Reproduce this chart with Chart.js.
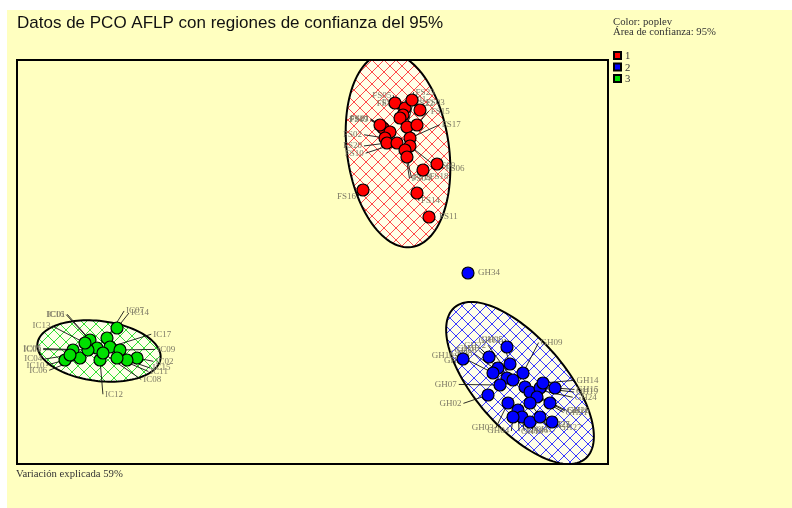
<!DOCTYPE html>
<html>
<head>
<meta charset="utf-8">
<script src="https://cdn.jsdelivr.net/npm/chart.js@4.4.1/dist/chart.umd.min.js"></script>
<style>
  html, body { margin: 0; padding: 0; background: #fff; }
  #wrap { width: 792px; height: 508px; }
</style>
</head>
<body>
<div id="wrap"><canvas id="pco-chart" width="792" height="508"></canvas></div>
<script>
// PCO scores (axis 1, axis 2) per population
const groupNames = ["1", "2", "3"];

const fsX = [378, 388, 386, 403, 383, 366, 373, 390, 400, 368, 370, 380, 393, 393, 388, 390, 406, 420, 346, 400, 412, 363, 395];
const fsY = [361, 356, 349, 354, 346, 336, 332, 337, 339, 326, 321, 321, 326, 318, 314, 307, 294, 300, 274, 271, 247, 339, 364];
const fsLabels = ["FS05", "FS01", "FS08", "FS03", "FS12", "FS19", "FS07", "FS22", "FS15", "FS02", "FS20", "FS10",
  "FS17", "FS09", "FS04", "FS13", "FS18", "FS06", "FS16", "FS14", "FS11", "FS21", "FS23"];

const ghX = [451, 446, 490, 472, 493, 481, 476, 490, 496, 506, 508, 471, 513, 523, 526, 538, 520, 491, 513, 533, 501, 505, 496, 513, 523, 535, 483];
const ghY = [191, 105, 117, 107, 100, 96, 91, 86, 84, 91, 77, 69, 72, 76, 81, 76, 67, 61, 61, 61, 54, 47, 47, 42, 47, 42, 79];
const ghLabels = ["GH34", "GH10", "GH05", "GH16", "GH12", "GH18", "GH20", "GH08", "GH22", "GH09", "GH24", "GH02",
  "GH26", "GH19", "GH14", "GH15", "GH21", "GH03", "GH25", "GH11", "GH13", "GH06", "GH04", "GH17", "GH23", "GH27", "GH07"];

const icX = [100, 90, 73, 80, 56, 93, 103, 83, 48, 63, 120, 110, 100, 53, 71, 68, 86];
const icY = [136, 126, 124, 116, 114, 117, 114, 104, 104, 106, 106, 104, 106, 109, 114, 121, 111];
const icLabels = ["IC14", "IC07", "IC01", "IC16", "IC03", "IC17", "IC09", "IC12", "IC10", "IC06", "IC02", "IC15",
  "IC11", "IC04", "IC05", "IC13", "IC08"];

// 95% confidence ellipses: centre, semi-axes, rotation (degrees)
const ellCx = [381, 503, 82];
const ellCy = [314, 81, 113];
const ellA = [98, 100, 62];
const ellB = [51, 45, 30];
const ellAngle = [98, -49, -7];

const pointColors = ["#ff0000", "#0000ff", "#00e000"];
const hatchColors = ["#ff4a4a", "#3a3aff", "#33dd33"];
// how far labels are pushed out from the group centre (px, horizontal / vertical)
const labelRx = [40, 58, 56];
const labelRy = [38, 46, 44];

const toPoints = (xs, ys) => xs.map((x, i) => ({ x: x, y: ys[i] }));
const groupLabels = [fsLabels, ghLabels, icLabels];

const makeHatch = (ctx, color) => {
  const c = document.createElement("canvas");
  c.width = 12;
  c.height = 12;
  const g = c.getContext("2d");
  g.strokeStyle = color;
  g.lineWidth = 1;
  g.beginPath();
  g.moveTo(-1, -1); g.lineTo(13, 13);
  g.moveTo(13, -1); g.lineTo(-1, 13);
  g.stroke();
  return ctx.createPattern(c, "repeat");
};

const ellipsePath = (ctx, xs, ys, i) => {
  const th = ellAngle[i] * Math.PI / 180;
  ctx.beginPath();
  for (let k = 0; k <= 120; k++) {
    const t = k / 120 * Math.PI * 2;
    const dx = ellA[i] * Math.cos(t) * Math.cos(th) - ellB[i] * Math.sin(t) * Math.sin(th);
    const dy = ellA[i] * Math.cos(t) * Math.sin(th) + ellB[i] * Math.sin(t) * Math.cos(th);
    const px = xs.getPixelForValue(ellCx[i] + dx);
    const py = ys.getPixelForValue(ellCy[i] + dy);
    if (k === 0) ctx.moveTo(px, py); else ctx.lineTo(px, py);
  }
  ctx.closePath();
};

const pcoDecor = {
  id: "pcoDecor",
  beforeDraw(chart) {
    const ctx = chart.ctx;
    ctx.save();
    ctx.fillStyle = "#ffffff";
    ctx.fillRect(0, 0, chart.width, chart.height);
    ctx.fillStyle = "#ffffc0";
    ctx.fillRect(7, 10, chart.width - 7, chart.height - 10);
    ctx.restore();
  },
  beforeDatasetsDraw(chart) {
    const ctx = chart.ctx;
    const area = chart.chartArea;
    const xs = chart.scales.x;
    const ys = chart.scales.y;
    ctx.save();
    ctx.beginPath();
    ctx.rect(area.left, area.top, area.right - area.left, area.bottom - area.top);
    ctx.clip();

    // ellipses
    for (let i = 0; i < 3; i++) {
      ellipsePath(ctx, xs, ys, i);
      ctx.fillStyle = "#ffffe8";
      ctx.fill();
      ctx.fillStyle = makeHatch(ctx, hatchColors[i]);
      ctx.fill();
      ctx.strokeStyle = "#000";
      ctx.lineWidth = 2;
      ctx.stroke();
    }

    // point labels pushed outward, with leader lines back to the point
    chart.data.datasets.forEach((ds, i) => {
      const pts = ds.data.map((p) => ({ x: xs.getPixelForValue(p.x), y: ys.getPixelForValue(p.y) }));
      const cx = pts.reduce((s, p) => s + p.x, 0) / pts.length;
      const cy = pts.reduce((s, p) => s + p.y, 0) / pts.length;
      ctx.font = '9px "Liberation Serif", "Times New Roman", serif';
      ctx.textBaseline = "middle";
      pts.forEach((p, j) => {
        const dx = p.x - cx;
        const dy = p.y - cy;
        const d = Math.hypot(dx, dy) || 1;
        const ux = dx / d;
        const uy = dy / d;
        let ax, ay, right;
        if (d > 1.8 * labelRx[i]) {
          // isolated point: label just to its right
          ax = p.x + 8; ay = p.y; right = true;
        } else {
          const rr = 1 / Math.hypot(ux / labelRx[i], uy / labelRy[i]);
          const r = Math.max(d + 8, rr);
          ax = cx + ux * r;
          ay = cy + uy * r;
          right = ux >= 0;
          ctx.strokeStyle = "rgba(20,20,20,0.9)";
          ctx.lineWidth = 1;
          ctx.beginPath();
          ctx.moveTo(p.x, p.y);
          ctx.lineTo(ax, ay);
          ctx.stroke();
        }
        ctx.fillStyle = "#7d7a66";
        ctx.textAlign = right ? "left" : "right";
        ctx.fillText(groupLabels[i][j], ax + (right ? 2 : -2), ay);
      });
    });
    ctx.restore();
  },
  afterDraw(chart) {
    const ctx = chart.ctx;
    const area = chart.chartArea;
    ctx.save();
    ctx.strokeStyle = "#000";
    ctx.lineWidth = 2;
    ctx.strokeRect(area.left, area.top, area.right - area.left, area.bottom - area.top);

    ctx.fillStyle = "#111";
    ctx.textAlign = "left";
    ctx.textBaseline = "alphabetic";
    ctx.font = '17px "Liberation Sans", Arial, sans-serif';
    ctx.fillText("Datos de PCO AFLP con regiones de confianza del 95%", 17, 28);

    ctx.fillStyle = "#333";
    ctx.font = '10.7px "Liberation Serif", "Times New Roman", serif';
    ctx.fillText("Color: poplev", 613, 25);
    ctx.fillText("Área de confianza: 95%", 613, 35);
    ctx.fillText("Variación explicada 59%", 16, 477);

    groupNames.forEach((name, i) => {
      const y = 51 + i * 11.5;
      ctx.fillStyle = "#000";
      ctx.fillRect(613, y, 9, 9);
      ctx.fillStyle = pointColors[i];
      ctx.fillRect(615, y + 2, 5, 5);
      ctx.fillStyle = "#333";
      ctx.fillText(name, 625, y + 8);
    });
    ctx.restore();
  }
};

const ctx = document.getElementById("pco-chart");

new Chart(ctx, {
  type: "scatter",
  data: {
    datasets: [
      { label: groupNames[0], data: toPoints(fsX, fsY), backgroundColor: pointColors[0] },
      { label: groupNames[1], data: toPoints(ghX, ghY), backgroundColor: pointColors[1] },
      { label: groupNames[2], data: toPoints(icX, icY), backgroundColor: pointColors[2] }
    ]
  },
  options: {
    responsive: false,
    animation: false,
    devicePixelRatio: 1,
    layout: { padding: { left: 17, top: 60, right: 184, bottom: 44 } },
    elements: {
      point: { radius: 6, hoverRadius: 6, borderColor: "#000", borderWidth: 1.2 }
    },
    scales: {
      x: { type: "linear", min: 0, max: 591, display: false },
      y: { type: "linear", min: 0, max: 404, display: false }
    },
    plugins: {
      legend: { display: false },
      tooltip: { enabled: false }
    }
  },
  plugins: [pcoDecor]
});
</script>
</body>
</html>
